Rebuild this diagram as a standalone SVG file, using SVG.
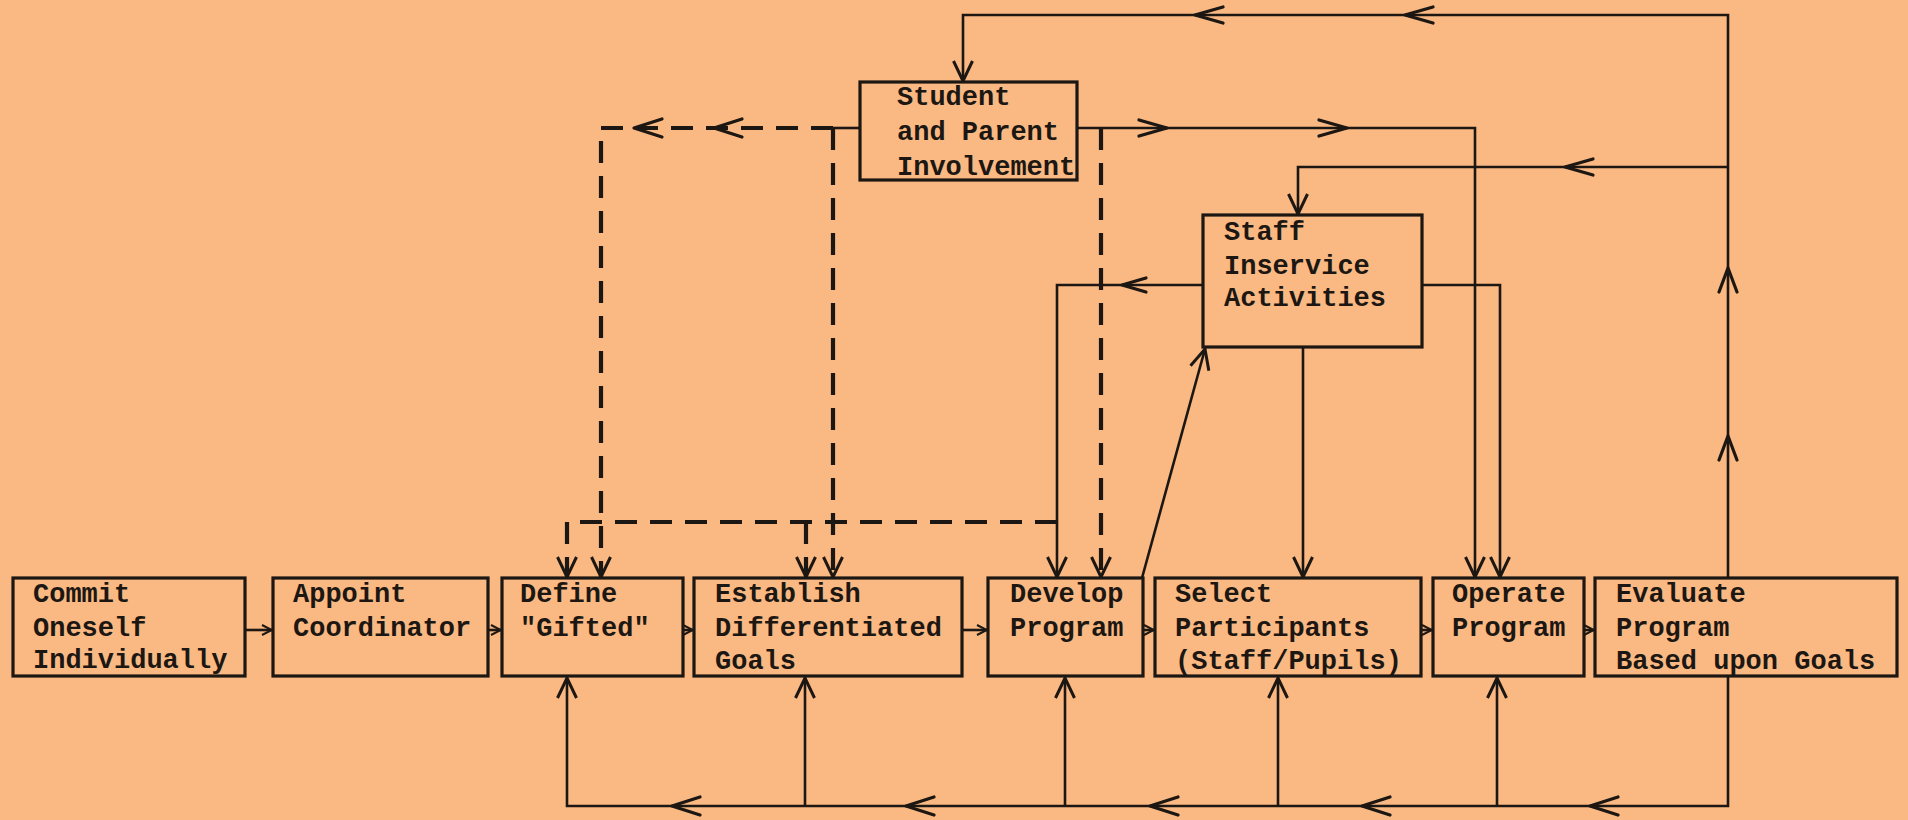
<svg xmlns="http://www.w3.org/2000/svg" width="1908" height="820" viewBox="0 0 1908 820">
<defs>
<style>
.box{fill:none;stroke:#1c1712;stroke-width:3.2}
.t{font-family:"Liberation Mono","Courier New",monospace;font-size:27px;font-weight:bold;fill:#1c1712}
.c{fill:none;stroke:#1c1712;stroke-width:2.6;stroke-linejoin:miter}
.d{fill:none;stroke:#1c1712;stroke-width:4.2;stroke-dasharray:22 13}
.h{fill:none;stroke:#1c1712;stroke-width:3.2;stroke-linecap:round;stroke-linejoin:round}
</style>
<marker id="sm" viewBox="0 0 12 12" refX="11" refY="6" markerWidth="12" markerHeight="12" orient="auto" markerUnits="userSpaceOnUse">
<path d="M1,1 L11,6 L1,11" fill="none" stroke="#1c1712" stroke-width="2"/>
</marker>
<marker id="bg" viewBox="0 0 22 22" refX="21" refY="11" markerWidth="22" markerHeight="22" orient="auto" markerUnits="userSpaceOnUse">
<path d="M1,1.5 L21,11 L1,20.5" fill="none" stroke="#1c1712" stroke-width="3"/>
</marker>
</defs>
<rect x="0" y="0" width="1908" height="820" fill="#FAB983"/>

<g id="connectors">
<!-- bottom row flow -->
<path class="c" d="M245,630 H272" marker-end="url(#sm)"/>
<path class="c" d="M488,630 H501" marker-end="url(#sm)"/>
<path class="c" d="M683,630 H693" marker-end="url(#sm)"/>
<path class="c" d="M962,630 H987" marker-end="url(#sm)"/>
<path class="c" d="M1143,630 H1154" marker-end="url(#sm)"/>
<path class="c" d="M1421,630 H1432" marker-end="url(#sm)"/>
<path class="c" d="M1584,630 H1594" marker-end="url(#sm)"/>

<!-- bottom feedback loop -->
<path class="c" d="M1728,677 V806 H567 V678" marker-end="url(#bg)"/>
<path class="c" d="M805,806 V678" marker-end="url(#bg)"/>
<path class="c" d="M1065,806 V678" marker-end="url(#bg)"/>
<path class="c" d="M1278,806 V678" marker-end="url(#bg)"/>
<path class="c" d="M1497,806 V678" marker-end="url(#bg)"/>
<path class="h" d="M700,797 L672,806 L700,815 M934,797 L906,806 L934,815 M1178,797 L1150,806 L1178,815 M1390,797 L1362,806 L1390,815 M1618,797 L1590,806 L1618,815"/>

<!-- right vertical return to top -->
<path class="c" d="M1728,578 V15 H963 V81" marker-end="url(#bg)"/>
<path class="h" d="M1719,292 L1728,268 L1737,292 M1719,460 L1728,436 L1737,460"/>
<path class="h" d="M1223,7 L1195,15 L1223,23 M1433,7 L1405,15 L1433,23"/>
<path class="c" d="M1728,167 H1298 V214" marker-end="url(#bg)"/>
<path class="h" d="M1593,159 L1565,167 L1593,175"/>

<!-- Student and Parent Involvement outputs -->
<path class="c" d="M1077,128 H1475 V577" marker-end="url(#bg)"/>
<path class="h" d="M1139,120 L1167,128 L1139,136 M1319,120 L1347,128 L1319,136"/>
<path class="c" d="M860,128 H833"/>
<path class="d" d="M833,128 H601 V577" marker-end="url(#bg)"/>
<path class="h" d="M662,119 L634,128 L662,137 M742,119 L714,128 L742,137"/>
<path class="d" d="M833,128 V577" marker-end="url(#bg)"/>
<path class="d" d="M1101,128 V577" marker-end="url(#bg)"/>

<!-- Staff Inservice Activities outputs -->
<path class="c" d="M1203,285 H1057 V577" marker-end="url(#bg)"/>
<path class="h" d="M1146,278 L1122,285 L1146,292"/>
<path class="d" d="M1057,522 H567 V577" marker-end="url(#bg)"/>
<path class="d" d="M806,522 V577" marker-end="url(#bg)"/>
<path class="c" d="M1422,285 H1500 V577" marker-end="url(#bg)"/>
<path class="c" d="M1303,347 V577" marker-end="url(#bg)"/>
<path class="c" d="M1142,578 L1205,349" marker-end="url(#bg)"/>
</g>

<g id="n-commit">
<rect class="box" x="13" y="578" width="232" height="98"/>
<text class="t"><tspan x="33" y="602">Commit</tspan><tspan x="33" y="636">Oneself</tspan><tspan x="33" y="668">Individually</tspan></text>
</g>
<g id="n-appoint">
<rect class="box" x="273" y="578" width="215" height="98"/>
<text class="t"><tspan x="293" y="602">Appoint</tspan><tspan x="293" y="636">Coordinator</tspan></text>
</g>
<g id="n-define">
<rect class="box" x="502" y="578" width="181" height="98"/>
<text class="t"><tspan x="520" y="602">Define</tspan><tspan x="520" y="636">"Gifted"</tspan></text>
</g>
<g id="n-establish">
<rect class="box" x="694" y="578" width="268" height="98"/>
<text class="t"><tspan x="715" y="602">Establish</tspan><tspan x="715" y="636">Differentiated</tspan><tspan x="715" y="669">Goals</tspan></text>
</g>
<g id="n-develop">
<rect class="box" x="988" y="578" width="155" height="98"/>
<text class="t"><tspan x="1010" y="602">Develop</tspan><tspan x="1010" y="636">Program</tspan></text>
</g>
<g id="n-select">
<rect class="box" x="1155" y="578" width="266" height="98"/>
<text class="t"><tspan x="1175" y="602">Select</tspan><tspan x="1175" y="636">Participants</tspan><tspan x="1175" y="669">(Staff/Pupils)</tspan></text>
</g>
<g id="n-operate">
<rect class="box" x="1433" y="578" width="151" height="98"/>
<text class="t"><tspan x="1452" y="602">Operate</tspan><tspan x="1452" y="636">Program</tspan></text>
</g>
<g id="n-evaluate">
<rect class="box" x="1595" y="578" width="302" height="98"/>
<text class="t"><tspan x="1616" y="602">Evaluate</tspan><tspan x="1616" y="636">Program</tspan><tspan x="1616" y="669">Based upon Goals</tspan></text>
</g>
<g id="n-student">
<rect class="box" x="860" y="82" width="217" height="98"/>
<text class="t"><tspan x="897" y="105">Student</tspan><tspan x="897" y="140">and Parent</tspan><tspan x="897" y="175">Involvement</tspan></text>
</g>
<g id="n-staff">
<rect class="box" x="1203" y="215" width="219" height="132"/>
<text class="t"><tspan x="1224" y="240">Staff</tspan><tspan x="1224" y="274">Inservice</tspan><tspan x="1224" y="306">Activities</tspan></text>
</g>
</svg>
